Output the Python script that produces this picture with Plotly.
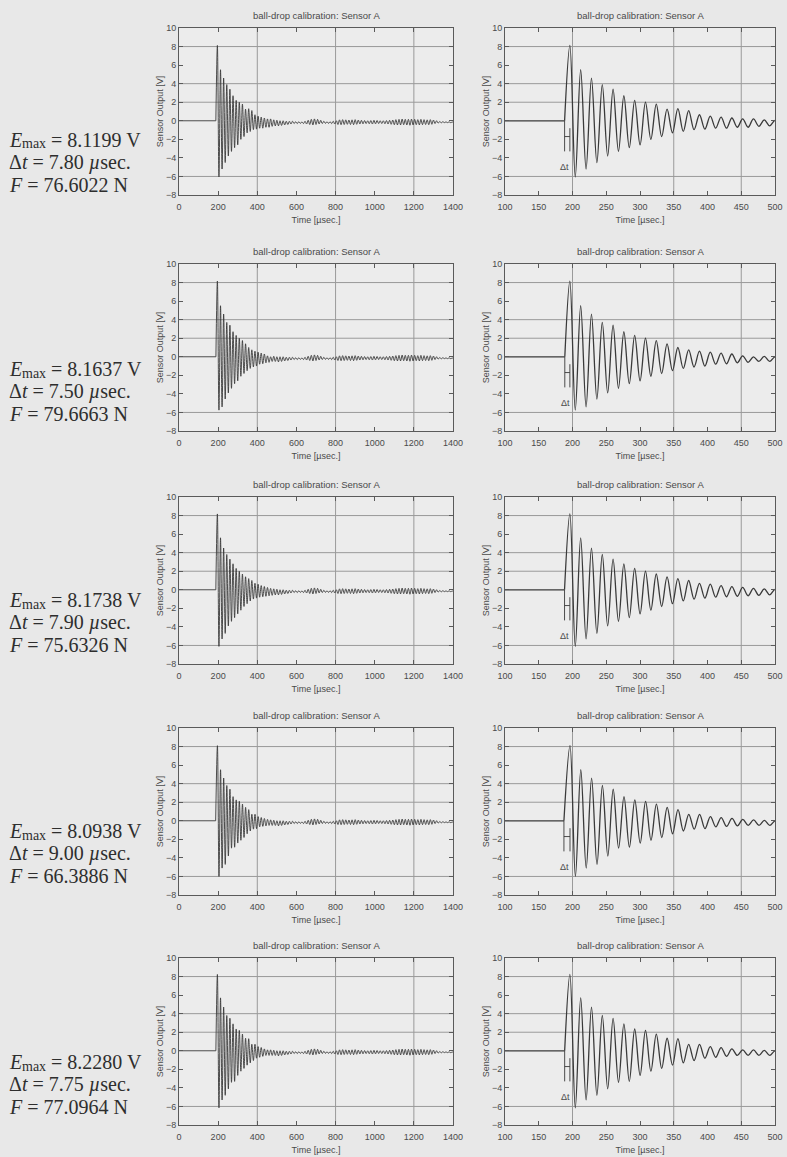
import plotly.graph_objects as go

# ---------------- data ----------------
row_emax = [8.1199, 8.1637, 8.1738, 8.0938, 8.2280]
row_dt = [7.80, 7.50, 7.90, 9.00, 7.75]
row_force = [76.6022, 79.6663, 75.6326, 66.3886, 77.0964]
row_onset = [188.3, 188.6, 188.2, 187.3, 188.4]

peaks_r1 = [8.1199, 5.5, 4.6, 3.9, 3.4, 2.7, 2.2, 2.0, 1.8, 1.25, 1.3, 1.1, 0.65, 0.5, 0.4, 0.3, 0.2, 0.2, 0.1, 0.05]
troughs_r1 = [-6.05, -5.2, -4.5, -3.8, -3.3, -2.9, -2.6, -2.0, -1.7, -1.3, -1.15, -0.95, -0.9, -0.8, -0.8, -0.7, -0.7, -0.6, -0.55]
peaks_r2 = [8.1637, 5.5, 4.6, 3.7, 3.4, 2.7, 2.3, 2.0, 1.75, 1.4, 1.0, 0.75, 0.6, 0.5, 0.4, 0.3, 0.1, 0.0, 0.05, 0.0]
troughs_r2 = [-5.75, -5.4, -4.55, -3.9, -3.4, -2.9, -2.6, -2.1, -1.8, -1.5, -1.25, -1.1, -1.0, -0.8, -0.75, -0.65, -0.6, -0.5, -0.5]
peaks_r3 = [8.1738, 5.6, 4.5, 3.8, 3.3, 2.8, 2.3, 2.0, 1.7, 1.4, 1.2, 1.0, 0.7, 0.6, 0.45, 0.35, 0.25, 0.15, 0.1, 0.05]
troughs_r3 = [-6.1, -5.3, -4.7, -3.9, -3.4, -3.0, -2.6, -2.2, -1.8, -1.5, -1.2, -1.0, -0.9, -0.8, -0.75, -0.7, -0.65, -0.6, -0.55]
peaks_r4 = [8.0938, 5.5, 4.6, 3.8, 3.4, 2.6, 2.25, 2.1, 1.8, 1.45, 1.2, 0.7, 0.7, 0.45, 0.35, 0.25, 0.15, 0.1, 0.05, 0.0]
troughs_r4 = [-6.0, -5.1, -4.7, -3.8, -2.95, -2.85, -2.4, -2.1, -1.8, -1.4, -1.1, -0.9, -0.85, -0.65, -0.6, -0.55, -0.5, -0.5, -0.5]
peaks_r5 = [8.2280, 5.7, 4.7, 3.8, 3.5, 2.9, 2.35, 2.2, 1.8, 1.35, 1.3, 0.7, 0.7, 0.45, 0.35, 0.2, 0.1, 0.1, 0.05, 0.0]
troughs_r5 = [-6.15, -5.3, -4.8, -4.1, -3.4, -3.3, -2.65, -2.2, -1.9, -1.55, -1.3, -1.05, -0.8, -0.7, -0.6, -0.5, -0.5, -0.5, -0.5]

row_peaks = [peaks_r1, peaks_r2, peaks_r3, peaks_r4, peaks_r5]
row_troughs = [troughs_r1, troughs_r2, troughs_r3, troughs_r4, troughs_r5]

# late ringing after ~500 usec (alternating trough, peak)
tail_extrema = [
    -0.55, 0.0, -0.5, 0.0, -0.45, -0.05, -0.4, -0.05, -0.35, -0.05, -0.3, -0.1, -0.3, -0.1,
    -0.28, -0.12, -0.3, -0.05, -0.35, 0.05, -0.4, 0.15, -0.45, 0.2, -0.4, 0.15, -0.35, 0.05,
    -0.3, -0.05, -0.28, -0.1, -0.28, -0.1, -0.3, -0.05, -0.35, 0.0, -0.4, 0.1, -0.42, 0.12,
    -0.4, 0.1, -0.38, 0.08, -0.4, 0.1, -0.42, 0.12, -0.38, 0.08, -0.35, 0.05, -0.33, 0.02,
    -0.3, 0.0, -0.32, 0.02, -0.35, 0.05, -0.33, 0.03, -0.3, 0.0, -0.3, 0.0, -0.32, 0.02,
    -0.35, 0.05, -0.38, 0.08, -0.42, 0.12, -0.45, 0.15, -0.45, 0.18, -0.42, 0.15, -0.45, 0.15,
    -0.48, 0.18, -0.45, 0.15, -0.42, 0.12, -0.45, 0.15, -0.42, 0.12, -0.4, 0.1, -0.42, 0.12,
    -0.38, 0.08, -0.3, 0.0, -0.25, -0.08, -0.22, -0.1, -0.2, -0.12, -0.2, -0.12, -0.2, -0.14,
]
half_period_us = 8.0
record_end_us = 1400
record_end_value = -0.17

left_xticks = [0, 200, 400, 600, 800, 1000, 1200, 1400]
right_xticks = [100, 150, 200, 250, 300, 350, 400, 450, 500]
yticks = [-8, -6, -4, -2, 0, 2, 4, 6, 8, 10]
left_xgrid = [400, 800, 1200]
right_xgrid = [200, 350, 450]
ygrid = [8, 4, 2, -6]

plot_title = "ball-drop calibration: Sensor A"
x_title = "Time [µsec.]"
y_title = "Sensor Output [V]"

# ---------------- layout geometry (pixels) ----------------
W, H = 787, 1157
row_tops = [28, 264, 497, 728, 958]
text_centers = [140, 369, 600, 831, 1062]
line_gap = 22.5
plot_h = 167
left_x = (179, 453)
right_x = (505, 775)

PAPER = "#e8e8e8"
PLOTBG = "#ececec"
LINE = "#3a3a3a"
AX = "#5a5a5a"
GRID = "#9a9a9a"
TXT = "#4a4a4a"
SERIF = "Liberation Serif"
SANS = "Liberation Sans"

fig = go.Figure()
layout = {}
shapes = []
annotations = []


def axis_common():
    return dict(showline=True, linecolor=AX, linewidth=1, mirror="ticks",
                ticks="inside", ticklen=4, tickcolor=AX, showgrid=False,
                zeroline=False, automargin=False,
                tickfont=dict(family=SANS, size=9, color=TXT))


def px_ann(x, y, text, size, family=SERIF, color="#2e2e2e"):
    return dict(x=x / W, y=1 - y / H, xref="paper", yref="paper", text=text,
                showarrow=False, xanchor="left", yanchor="middle",
                font=dict(family=family, size=size, color=color))


for r in range(5):
    onset = row_onset[r]
    t_peak = onset + row_dt[r]
    extrema = []
    for i in range(len(row_peaks[r])):
        extrema.append(row_peaks[r][i])
        if i < len(row_troughs[r]):
            extrema.append(row_troughs[r][i])
    extrema += tail_extrema
    t_ext = [t_peak + k * half_period_us for k in range(len(extrema))]
    t_osc = [onset] + t_ext + [record_end_us]
    v_osc = [0.0] + extrema + [record_end_value]

    y0 = 1 - (row_tops[r] + plot_h) / H
    y1 = 1 - row_tops[r] / H

    for c in range(2):
        idx = r * 2 + c + 1
        xs = "" if idx == 1 else str(idx)
        xname, yname = "x" + xs, "y" + xs
        px0, px1 = left_x if c == 0 else right_x
        xr = [0, 1400] if c == 0 else [100, 500]
        xt = left_xticks if c == 0 else right_xticks
        xg = left_xgrid if c == 0 else right_xgrid
        lw = 0.9 if c == 0 else 1.3

        xa = axis_common()
        xa.update(domain=[px0 / W, px1 / W], range=xr, tickvals=xt,
                  anchor=yname, ticklabelstandoff=3,
                  title=dict(text=x_title, standoff=5,
                             font=dict(family=SANS, size=9, color=TXT)))
        ya = axis_common()
        ya.update(domain=[y0, y1], range=[-8, 10], tickvals=yticks, anchor=xname,
                  title=dict(text=y_title, standoff=0,
                             font=dict(family=SANS, size=9, color=TXT)))
        layout["xaxis" + xs] = xa
        layout["yaxis" + xs] = ya

        # gridlines
        for gx in xg:
            shapes.append(dict(type="line", xref=xname, yref=yname + " domain",
                               x0=gx, x1=gx, y0=0, y1=1, layer="below",
                               line=dict(color=GRID, width=1)))
        for gy in ygrid:
            shapes.append(dict(type="line", xref=xname + " domain", yref=yname,
                               x0=0, x1=1, y0=gy, y1=gy, layer="below",
                               line=dict(color=GRID, width=1)))

        # pre-trigger baseline
        fig.add_trace(go.Scatter(x=[xr[0], onset], y=[0, 0], mode="lines",
                                 line=dict(color=LINE, width=lw),
                                 xaxis=xname, yaxis=yname, showlegend=False,
                                 hoverinfo="skip"))
        # ringing signal
        fig.add_trace(go.Scatter(x=t_osc, y=v_osc, mode="lines",
                                 line=dict(color=LINE, width=lw, shape="spline",
                                           smoothing=1.0),
                                 xaxis=xname, yaxis=yname, showlegend=False,
                                 hoverinfo="skip"))
        if c == 1:
            # delta-t marker
            fig.add_trace(go.Scatter(
                x=[onset, onset, None, t_peak, t_peak, None, onset, t_peak],
                y=[0, -3.3, None, -0.8, -3.3, None, -1.7, -1.7],
                mode="lines", line=dict(color=LINE, width=0.9),
                xaxis=xname, yaxis=yname, showlegend=False, hoverinfo="skip"))
            annotations.append(dict(x=onset + 0.5, y=-5.0, xref=xname, yref=yname,
                                    text="Δt", showarrow=False,
                                    font=dict(family=SANS, size=9, color=TXT)))

        annotations.append(dict(x=(px0 + px1) / 2 / W, y=1 - (row_tops[r] - 13) / H,
                                xref="paper", yref="paper", text=plot_title,
                                showarrow=False, xanchor="center", yanchor="middle",
                                font=dict(family=SANS, size=9.5, color=TXT)))

    # left-hand numbers
    yc = text_centers[r]
    annotations.append(px_ann(7, yc, "<i>E</i>", 20))
    annotations.append(px_ann(19.5, yc + 4, "max", 14))
    annotations.append(px_ann(49, yc, f"= {row_emax[r]:.4f} V", 20))
    annotations.append(px_ann(7, yc + line_gap, f"Δ<i>t</i> = {row_dt[r]:.2f} <i>µ</i>sec.", 20))
    annotations.append(px_ann(7, yc + 2 * line_gap, f"<i>F</i> = {row_force[r]:.4f} N", 20))

fig.update_layout(**layout)
fig.update_layout(width=W, height=H, margin=dict(l=0, r=0, t=0, b=0, autoexpand=False),
                  paper_bgcolor=PAPER, plot_bgcolor=PLOTBG,
                  shapes=shapes, annotations=annotations, showlegend=False)
fig.write_html("out.html", config={"displayModeBar": False, "responsive": False},
               post_script="document.body.style.margin='0px';document.body.style.background='" + PAPER + "';")
